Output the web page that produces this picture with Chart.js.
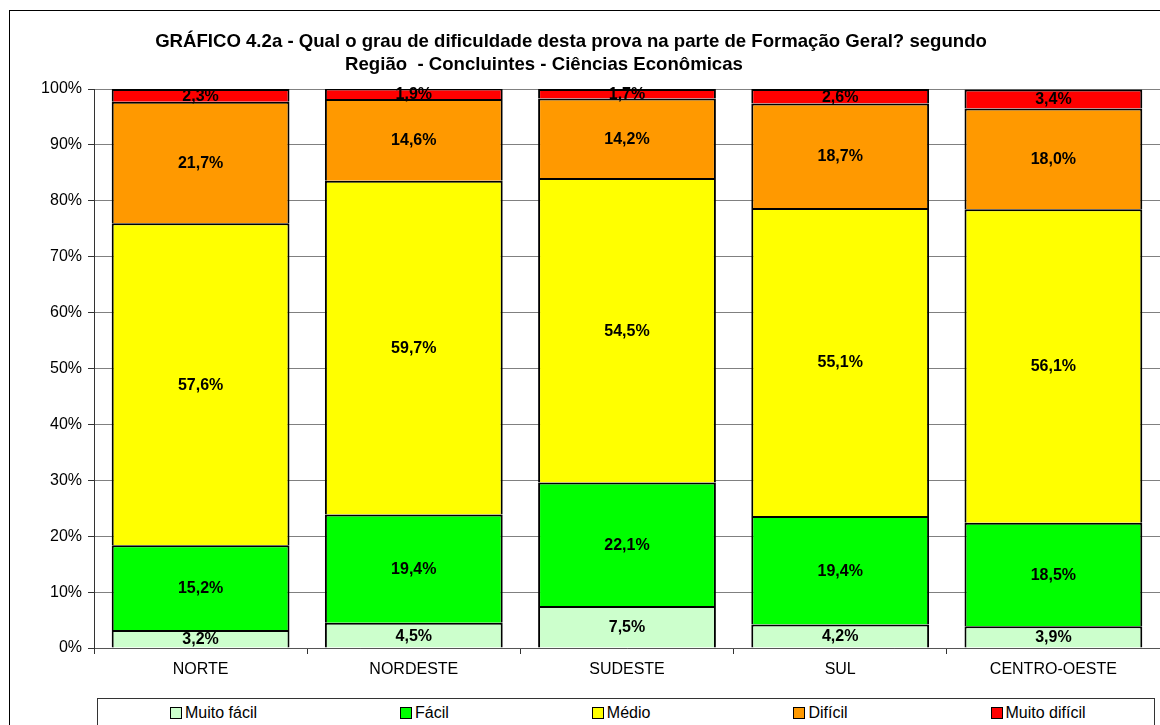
<!DOCTYPE html>
<html>
<head>
<meta charset="utf-8">
<script src="https://cdn.jsdelivr.net/npm/chart.js@4.4.1/dist/chart.umd.min.js"></script>
<style>
    html, body { margin: 0; padding: 0; background: #fff; overflow: hidden; }
    #wrap { position: relative; width: 1160px; height: 725px; overflow: hidden; }
    #frame {
        position: absolute; left: 9px; top: 10px; width: 1200px; height: 800px;
        border: 1px solid #000; box-sizing: border-box;
    }
    #chart { position: absolute; left: 0; top: 0; }
    #legend {
        position: absolute; left: 97px; top: 698px; width: 1058px; height: 30px;
        border: 1px solid #333; box-sizing: border-box; background: #fff;
        display: flex; align-items: center; gap: 143px; padding-left: 72px;
        font: 16px "Liberation Sans", Arial, sans-serif; color: #000;
    }
    .item { display: flex; align-items: center; white-space: nowrap; }
    .swatch { width: 12px; height: 12px; border: 1px solid #000; box-sizing: border-box; margin-right: 3px; }
</style>
</head>
<body>
<div id="wrap">
    <div id="frame"></div>
    <canvas id="chart" width="1160" height="725"></canvas>
    <div id="legend"></div>
</div>
<script>
// Data
const CATEGORIES = ['NORTE', 'NORDESTE', 'SUDESTE', 'SUL', 'CENTRO-OESTE'];
const SERIES_NAMES = ['Muito fácil', 'Fácil', 'Médio', 'Difícil', 'Muito difícil'];
const MUITO_FACIL = [3.2, 4.5, 7.5, 4.2, 3.9];
const FACIL = [15.2, 19.4, 22.1, 19.4, 18.5];
const MEDIO = [57.6, 59.7, 54.5, 55.1, 56.1];
const DIFICIL = [21.7, 14.6, 14.2, 18.7, 18.0];
const MUITO_DIFICIL = [2.3, 1.9, 1.7, 2.6, 3.4];
const Y_MIN = 0;
const Y_MAX = 100;
const Y_STEP = 10;
const TITLE_LINES = [
    'GRÁFICO 4.2a - Qual o grau de dificuldade desta prova na parte de Formação Geral? segundo',
    'Região  - Concluintes - Ciências Econômicas'
];

const SERIES_VALUES = [MUITO_FACIL, FACIL, MEDIO, DIFICIL, MUITO_DIFICIL];
const SERIES_COLORS = ['#ccffcc', '#00ff00', '#ffff00', '#ff9900', '#ff0000'];
const FONT = '"Liberation Sans", Arial, sans-serif';

Chart.defaults.font.family = FONT;
Chart.defaults.font.size = 16;
Chart.defaults.color = '#000';

function formatPct(v) {
    return v.toFixed(1).replace('.', ',') + '%';
}

// title drawn as two separately centred lines, like the original
const titlePlugin = {
    id: 'twoLineTitle',
    afterDraw(chart) {
        const ctx = chart.ctx;
        ctx.save();
        ctx.font = 'bold 18.6px ' + FONT;
        ctx.fillStyle = '#000';
        ctx.textAlign = 'center';
        ctx.textBaseline = 'alphabetic';
        ctx.fillText(TITLE_LINES[0], 571, 47);
        ctx.fillText(TITLE_LINES[1], 544, 70);
        ctx.restore();
    }
};

// value labels in the middle of each segment
const valueLabels = {
    id: 'valueLabels',
    afterDatasetsDraw(chart) {
        const ctx = chart.ctx;
        ctx.save();
        ctx.font = 'bold 16px ' + FONT;
        ctx.fillStyle = '#000';
        ctx.textAlign = 'center';
        ctx.textBaseline = 'middle';
        chart.data.datasets.forEach((ds, i) => {
            chart.getDatasetMeta(i).data.forEach((bar, j) => {
                const y = (bar.y + bar.base) / 2;
                ctx.fillText(formatPct(ds.data[j]), bar.x, y + 1);
            });
        });
        ctx.restore();
    }
};

const chart = new Chart(document.getElementById('chart'), {
    type: 'bar',
    data: {
        labels: CATEGORIES,
        datasets: SERIES_NAMES.map((name, i) => ({
            label: name,
            data: SERIES_VALUES[i],
            backgroundColor: SERIES_COLORS[i],
            borderColor: '#000',
            borderWidth: 2,
            categoryPercentage: 1,
            barPercentage: 0.834
        }))
    },
    options: {
        responsive: false,
        animation: false,
        layout: { padding: { left: 0, right: 0, top: 89, bottom: 27 } },
        plugins: {
            legend: { display: false },
            title: { display: false },
            tooltip: { enabled: false }
        },
        scales: {
            x: {
                stacked: true,
                grid: {
                    offset: true,
                    drawOnChartArea: false,
                    tickLength: 6,
                    tickColor: '#333',
                    tickWidth: 1
                },
                border: { display: true, color: '#555', width: 1 },
                ticks: { padding: 6, color: '#000', font: { size: 16 } },
                afterFit(scale) { scale.height = 50; }
            },
            y: {
                stacked: true,
                min: Y_MIN,
                max: Y_MAX,
                ticks: {
                    stepSize: Y_STEP,
                    padding: 6,
                    color: '#000',
                    font: { size: 16 },
                    callback: v => v + '%'
                },
                grid: {
                    color: '#808080',
                    lineWidth: 1,
                    borderDash: [2, 2],
                    tickLength: 6,
                    tickColor: '#333',
                    tickBorderDash: [],
                    tickWidth: 1
                },
                border: { display: true, color: '#333', width: 1 },
                afterFit(scale) { scale.width = 94; }
            }
        }
    },
    plugins: [titlePlugin, valueLabels]
});

// HTML legend built from the chart's datasets
const legendBox = document.getElementById('legend');
chart.data.datasets.forEach(ds => {
    const item = document.createElement('span');
    item.className = 'item';
    const sw = document.createElement('span');
    sw.className = 'swatch';
    sw.style.background = ds.backgroundColor;
    item.appendChild(sw);
    item.appendChild(document.createTextNode(ds.label));
    legendBox.appendChild(item);
});
</script>
</body>
</html>
